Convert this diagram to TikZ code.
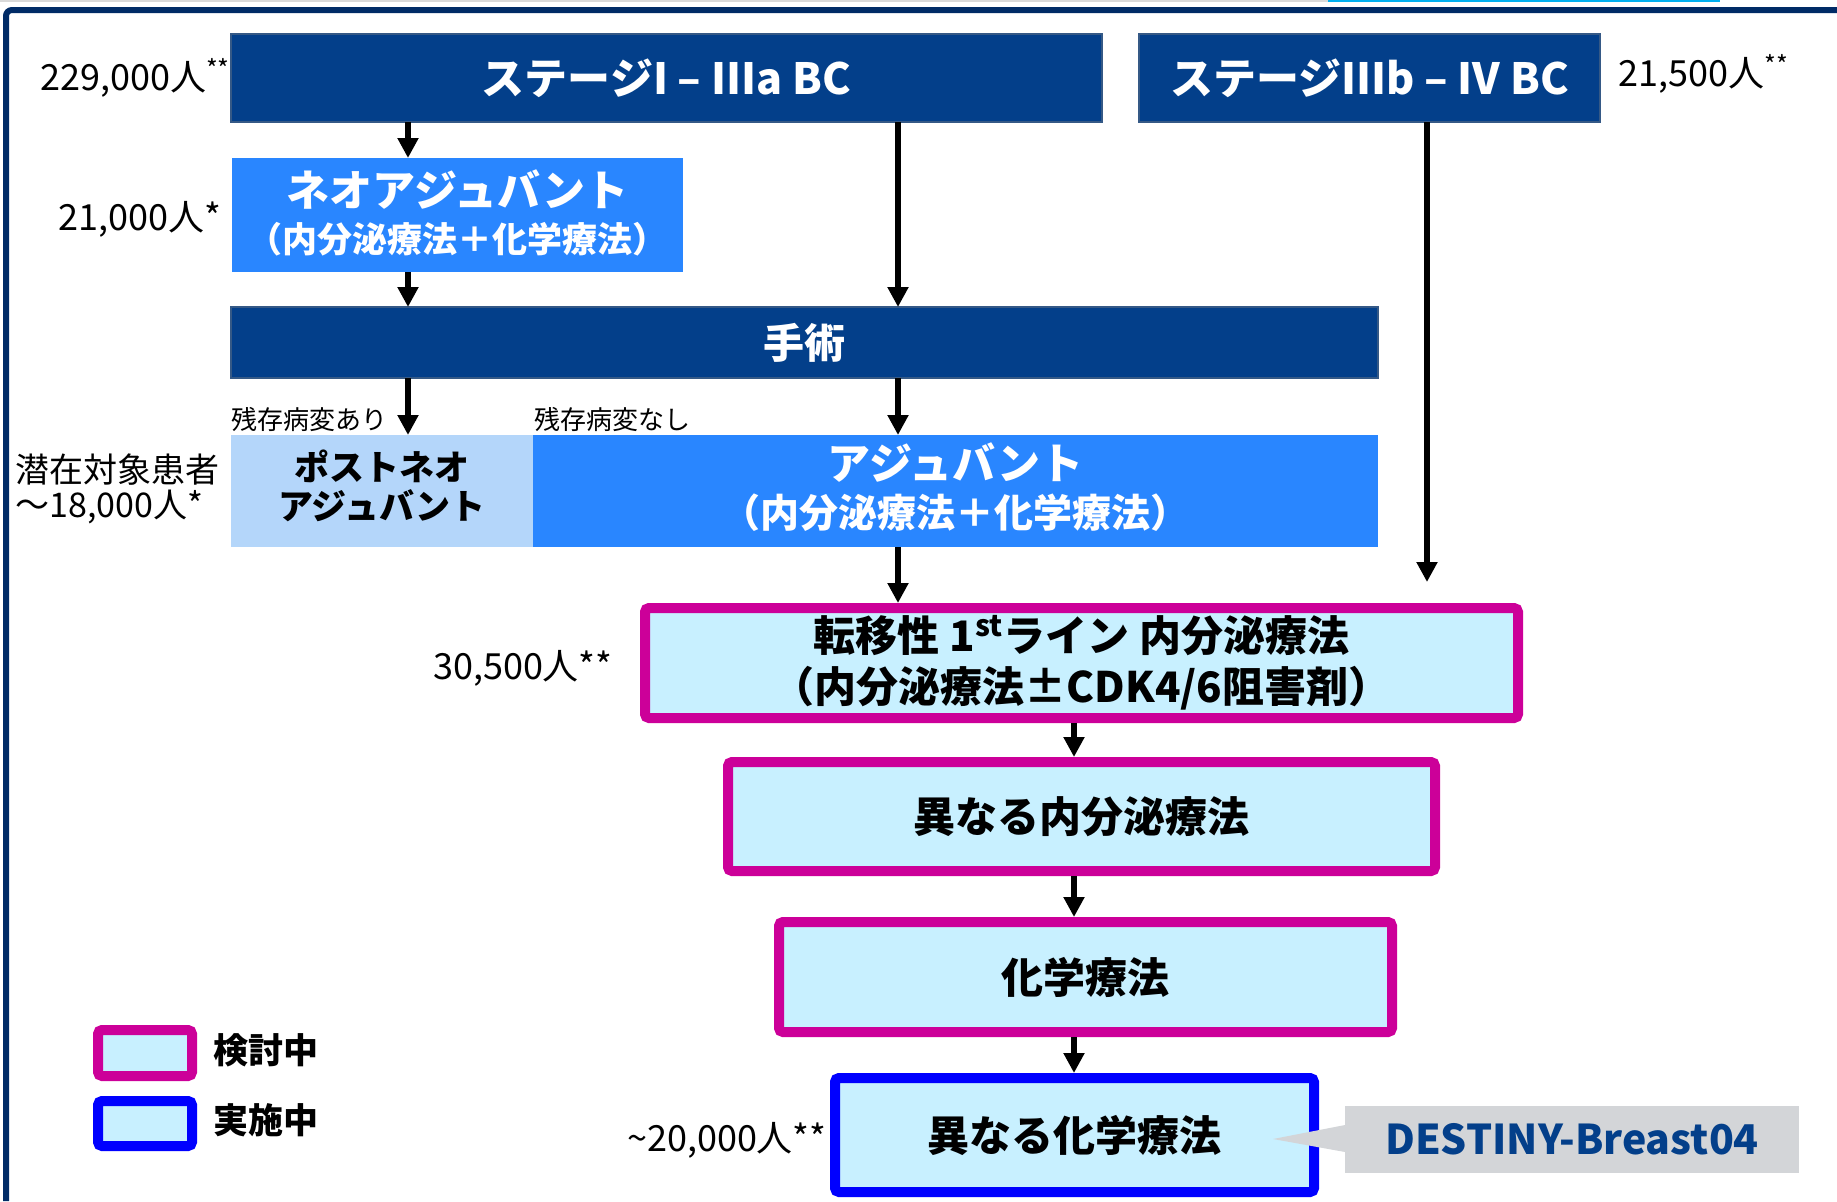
\documentclass[tikz,border=0pt]{standalone}
\usepackage{fontspec}
\setmainfont{Noto Sans CJK JP}
\usetikzlibrary{arrows.meta}
\definecolor{navyc}{RGB}{3,63,138}
\definecolor{framec}{RGB}{0,43,102}
\definecolor{bluec}{RGB}{41,134,255}
\definecolor{lightc}{RGB}{180,214,250}
\definecolor{cyanf}{RGB}{200,240,255}
\definecolor{magc}{RGB}{204,0,153}
\definecolor{pureb}{RGB}{0,0,255}
\definecolor{grayc}{RGB}{211,213,216}
\definecolor{topcyan}{RGB}{0,176,240}
\newcommand{\fsz}[2]{\fontsize{#1}{#2}\selectfont}
\begin{document}
\begin{tikzpicture}[x=0.5pt,y=-0.5pt,
  navybox/.style={fill=navyc, draw=navyc!60!gray, line width=0.6pt, inner sep=0pt, outer sep=0pt, text=white, font=\bfseries\fsz{21.5}{26}},
  bluebox/.style={fill=bluec, inner sep=0pt, outer sep=0pt},
  lightbox/.style={fill=lightc, inner sep=0pt, outer sep=0pt},
  boxtext/.style={inner sep=0pt, align=center},
  magbox/.style={draw=magc, fill=cyanf, line width=5pt, rounded corners=2pt, outer sep=2.5pt, inner sep=0pt, align=center, font=\bfseries\fsz{21}{25.5}},
  blubox/.style={magbox, draw=pureb},
  arr/.style={line width=3.3pt, -{Triangle[length=10pt,width=10pt]}},
  lbl/.style={inner sep=0pt, font=\fsz{18}{22}}
]
\useasboundingbox (0,0) rectangle (1837,1201);
% frame
\draw[gray!30, line width=1pt] (0,0.5) -- (1328,0.5);
\draw[topcyan, line width=1.2pt] (1328,1) -- (1720,1);
\draw[framec, line width=3pt, rounded corners=3pt] (6,1201) -- (6,10) -- (1837,10);

% boxes
\node[navybox, minimum width=435.5pt, minimum height=44pt] (s1) at (666.5,78) {ステージI – IIIa BC};
\node[navybox, minimum width=230.5pt, minimum height=44pt] (s2) at (1369.5,78) {ステージIIIb – IV BC};
\node[bluebox, minimum width=225.5pt, minimum height=57pt] (neo) at (457.5,215) {};
\node[boxtext, text=white, font=\bfseries\fsz{17.5}{22.7}] (neot) at ([yshift=1pt]neo.center)
  {{\fsz{21.5}{22.7}ネオアジュバント}\\（内分泌療法＋化学療法）};
\node[navybox, minimum width=573.5pt, minimum height=35.5pt, font=\bfseries\fsz{20.5}{24}] (surg) at (804.5,342.5) {手術};
\node[lightbox, minimum width=151pt, minimum height=56pt] (post) at (382,491) {};
\node[boxtext, text=black, font=\bfseries\fsz{17.5}{19.5}] (postt) at ([yshift=2.5pt]post.center) {ポストネオ\\アジュバント};
\node[bluebox, minimum width=422.5pt, minimum height=56pt] (adj) at (955.5,491) {};
\node[boxtext, text=white, font=\bfseries\fsz{19.5}{24.4}] (adjt) at ([yshift=2pt]adj.center)
  {{\fsz{21.5}{24.4}アジュバント}\\（内分泌療法＋化学療法）};
\node[magbox, minimum width=436.5pt, minimum height=55pt] (met) at (1081.5,663)
  {転移性 1\textsuperscript{st}ライン 内分泌療法\\（内分泌療法±CDK4/6阻害剤）};
\node[magbox, minimum width=353.5pt, minimum height=54.5pt] (endo) at (1081.5,816.5) {異なる内分泌療法};
\node[magbox, minimum width=306.5pt, minimum height=55pt] (chemo) at (1085.5,977) {化学療法};
\node[blubox, minimum width=239.5pt, minimum height=57pt] (dchemo) at (1074.5,1135) {異なる化学療法};
\node[fill=grayc, inner sep=0pt, outer sep=0pt, minimum width=227pt, minimum height=33.5pt, text=navyc, font=\bfseries\fsz{20.5}{25}] (dest) at (1572,1139.5) {DESTINY-Breast04};
\coordinate (tip) at (1273,1139);
\fill[grayc] ([yshift=7.25pt]dest.west) -- (tip) -- ([yshift=-6.25pt]dest.west) -- cycle;

% legend
\node[magbox, minimum width=47pt, minimum height=23pt] (lg1) at (145,1053) {};
\node[blubox, minimum width=47pt, minimum height=22.5pt] (lg2) at (145,1123.5) {};
\node[anchor=west, inner sep=0pt, font=\bfseries\fsz{17.5}{20}] (lt1) at ([xshift=8pt,yshift=1.5pt]lg1.east) {検討中};
\node[anchor=west, inner sep=0pt, font=\bfseries\fsz{17.5}{20}] (lt2) at ([xshift=8pt,yshift=1.5pt]lg2.east) {実施中};

% labels
\node[lbl, anchor=east] (n1) at (231,78) {229,000人\textsuperscript{**}};
\node[lbl, anchor=west] (n2) at (1618,74) {21,500人\textsuperscript{**}};
\node[lbl, anchor=east] (n3) at (222,219) {21,000人*};
\node[inner sep=0pt, anchor=west, font=\fsz{13}{16}] (r1) at (231,420) {残存病変あり};
\node[inner sep=0pt, anchor=west, font=\fsz{13}{16}] (r2) at (534,420) {残存病変なし};
\node[inner sep=0pt, anchor=west, align=left, font=\fsz{17}{17.5}] (n4) at (15,489) {潜在対象患者\\～18,000人*};
\node[lbl, anchor=east] (n5) at (613,668) {30,500人**};
\node[lbl, anchor=east] (n6) at (827,1140) {\char`\~20,000人**};

% arrows
\coordinate (xa) at (408,0);
\coordinate (xb) at (898,0);
\coordinate (xc) at (1074,0);
\coordinate (e6) at (1427,582);
\draw[arr] (s1.south -| xa) -- (neo.north -| xa);
\draw[arr] (s1.south -| xb) -- (surg.north -| xb);
\draw[arr] (neo.south -| xa) -- (surg.north -| xa);
\draw[arr] (surg.south -| xa) -- (post.north -| xa);
\draw[arr] (surg.south -| xb) -- (adj.north -| xb);
\draw[arr] (s2.south -| e6) -- (e6);
\draw[arr] (adj.south -| xb) -- (met.north -| xb);
\draw[arr] (met.south -| xc) -- (endo.north -| xc);
\draw[arr] (endo.south -| xc) -- (chemo.north -| xc);
\draw[arr] (chemo.south -| xc) -- (dchemo.north -| xc);
\end{tikzpicture}
\end{document}
